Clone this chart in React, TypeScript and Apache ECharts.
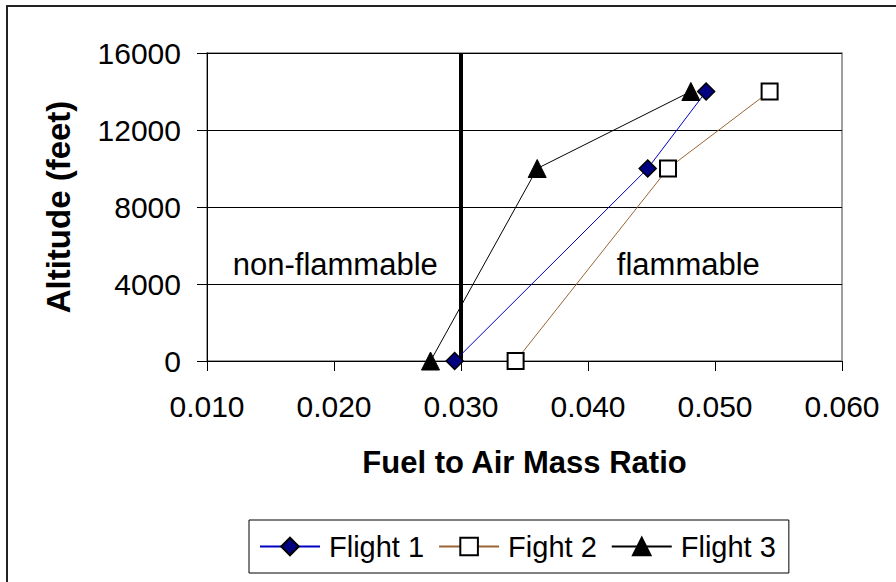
import React, { useEffect, useRef } from "react";
import * as echarts from "echarts";

const xTicks = [0.01, 0.02, 0.03, 0.04, 0.05, 0.06];
const yTicks = [0, 4000, 8000, 12000, 16000];
const altitudes = [0, 10000, 14000];
const flight1 = [0.0295, 0.0447, 0.0493];
const flight2 = [0.0343, 0.0463, 0.0543];
const flight3 = [0.0276, 0.036, 0.0481];
const boundaryX = 0.03;
const annotations: [number, number, string][] = [
  [0.0201, 5000, "non-flammable"],
  [0.0479, 5000, "flammable"],
];

const FONT = "'Liberation Sans', Arial, sans-serif";

export default function App() {
  const ref = useRef<HTMLDivElement>(null);
  useEffect(() => {
    if (!ref.current) return;
    const chart = echarts.init(ref.current, undefined, { renderer: "svg" });
    const pair = (xs: number[]) => xs.map((x, i) => [x, altitudes[i]]);
    chart.setOption({
      animation: false,
      textStyle: { fontFamily: FONT, color: "#000" },
      graphic: [
        {
          type: "rect",
          shape: { x: 7, y: 6, width: 1000, height: 1000 },
          style: { fill: "none", stroke: "#222", lineWidth: 2 },
          silent: true,
        },
      ],
      grid: {
        left: 207,
        top: 53,
        right: 54,
        bottom: 221,
        show: true,
        borderColor: "#808080",
        borderWidth: 1.5,
      },
      xAxis: {
        type: "value",
        min: xTicks[0],
        max: xTicks[xTicks.length - 1],
        interval: 0.01,
        name: "Fuel to Air Mass Ratio",
        nameLocation: "middle",
        nameGap: 86,
        nameTextStyle: { fontSize: 31, fontWeight: "bold", color: "#000", fontFamily: FONT },
        axisLine: { lineStyle: { color: "#000", width: 1 } },
        axisTick: { show: true, length: 10, lineStyle: { color: "#000" } },
        axisLabel: {
          fontSize: 30,
          color: "#000",
          margin: 30,
          fontFamily: FONT,
          formatter: (v: number) => v.toFixed(3),
        },
        splitLine: { show: false },
      },
      yAxis: {
        type: "value",
        min: yTicks[0],
        max: yTicks[yTicks.length - 1],
        interval: 4000,
        name: "Altitude (feet)",
        nameLocation: "middle",
        nameGap: 132,
        nameTextStyle: { fontSize: 33, fontWeight: "bold", color: "#000", fontFamily: FONT },
        axisLine: { show: true, lineStyle: { color: "#000", width: 1 } },
        axisTick: { show: true, length: 10, lineStyle: { color: "#000" } },
        axisLabel: {
          fontSize: 30,
          color: "#000",
          margin: 26,
          fontFamily: FONT,
          formatter: (v: number) => String(v),
        },
        splitLine: { show: true, lineStyle: { color: "#000", width: 1 } },
      },
      legend: {
        data: ["Flight 1", "Fight 2", "Flight 3"],
        left: 249,
        top: 520,
        orient: "horizontal",
        itemWidth: 60,
        itemHeight: 22,
        itemGap: 14,
        padding: [12, 13, 12, 10],
        borderColor: "#000",
        borderWidth: 1,
        textStyle: { fontSize: 29, color: "#000", fontFamily: FONT, padding: [0, 0, 0, 4] },
      },
      series: [
        {
          name: "boundary",
          type: "line",
          data: [
            [boundaryX, yTicks[0]],
            [boundaryX, yTicks[yTicks.length - 1]],
          ],
          symbol: "none",
          lineStyle: { color: "#000", width: 4 },
          silent: true,
          z: 1,
        },
        {
          name: "Flight 1",
          type: "line",
          data: pair(flight1),
          symbol: "diamond",
          symbolSize: 17,
          lineStyle: { color: "#0000c0", width: 1 },
          itemStyle: { color: "#000080", borderColor: "#000", borderWidth: 1.5 },
          z: 3,
        },
        {
          name: "Fight 2",
          type: "line",
          data: pair(flight2),
          symbol: "rect",
          symbolSize: 16,
          lineStyle: { color: "#996633", width: 1 },
          itemStyle: { color: "#fff", borderColor: "#000", borderWidth: 2 },
          z: 3,
        },
        {
          name: "Flight 3",
          type: "line",
          data: pair(flight3),
          symbol: "triangle",
          symbolSize: 18,
          lineStyle: { color: "#000", width: 1 },
          itemStyle: { color: "#000", borderColor: "#000", borderWidth: 1 },
          z: 3,
        },
        {
          name: "annotations",
          type: "scatter",
          data: annotations,
          symbolSize: 0,
          silent: true,
          itemStyle: { opacity: 1 },
          label: {
            show: true,
            position: "inside",
            fontSize: 31,
            color: "#000",
            opacity: 1,
            textBorderWidth: 0,
            textBorderColor: "transparent",
            fontFamily: FONT,
            formatter: (p: any) => p.data[2],
          },
          z: 2,
        },
      ],
    });
    return () => chart.dispose();
  }, []);
  return (
    <div
      ref={ref}
      style={{ position: "fixed", left: 0, top: 0, width: 896, height: 582, background: "#fff" }}
    />
  );
}
